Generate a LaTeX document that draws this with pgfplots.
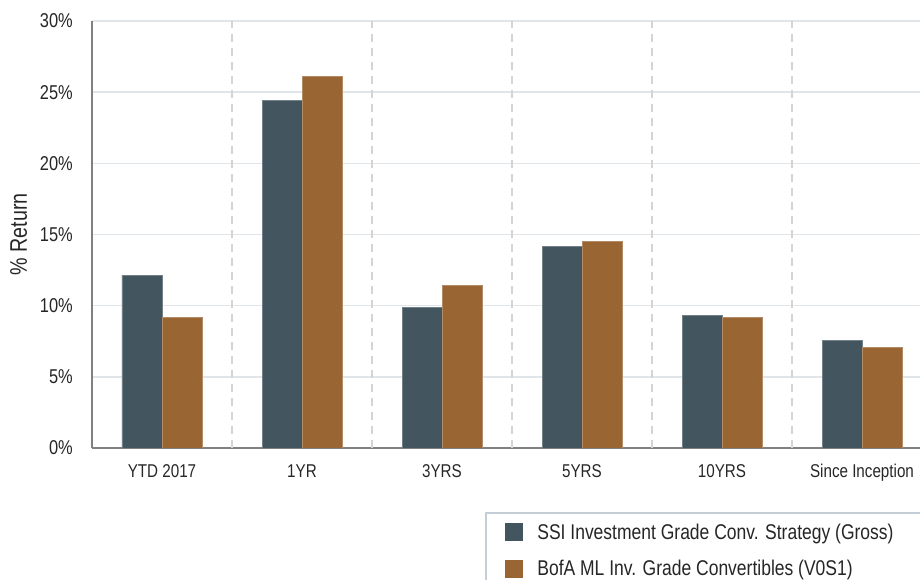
\documentclass[border=0pt]{standalone}
\usepackage{pgfplots}
\pgfplotsset{compat=1.18}
\usepackage{fontspec}
\setmainfont{Liberation Sans}[FakeStretch=0.82]
\definecolor{darkc}{HTML}{43555F}
\definecolor{orangec}{HTML}{996633}
\definecolor{gridc}{HTML}{E0E5EA}
\definecolor{dashc}{HTML}{D4D4D4}
\definecolor{axisc}{HTML}{808080}
\definecolor{legc}{HTML}{C5CED6}
\definecolor{textc}{HTML}{262626}
\begin{document}
\begin{tikzpicture}
\useasboundingbox (0,0) rectangle (690pt,435pt);
\clip (0,0) rectangle (690pt,435pt);
\begin{axis}[
  at={(69pt,99pt)}, anchor=south west,
  scale only axis, width=630pt, height=320.25pt,
  xmin=-0.5, xmax=5.5, ymin=0, ymax=30,
  ybar=0pt, bar width=30pt,
  axis x line*=bottom, axis y line*=left,
  axis line style={draw=axisc, line width=1.5pt, -},
  xtick={0,1,2,3,4,5},
  xticklabels={YTD 2017,1YR,3YRS,5YRS,10YRS,Since Inception},
  ytick={0,5,10,15,20,25,30},
  yticklabel={\pgfmathprintnumber{\tick}\%},
  /pgf/number format/assume math mode=true,
  major tick length=0pt,
  tick style={draw=none},
  xticklabel style={anchor=base, inner sep=0pt, yshift=-22.1pt, font=\fontsize{13.9}{16}\selectfont, text=textc},
  yticklabel style={anchor=east, inner sep=0pt, xshift=-14.25pt, font=\fontsize{15}{18}\selectfont, text=textc},
  ymajorgrids,
  major grid style={draw=gridc, line width=1.1pt},
  extra x ticks={0.5,1.5,2.5,3.5,4.5},
  extra x tick labels={},
  extra x tick style={xmajorgrids=true, ymajorgrids=false, major grid style={draw=dashc, line width=1.5pt, dash pattern=on 6pt off 4.5pt}},
  ylabel={\% Return},
  ylabel style={at={(axis description cs:0,0.5)}, anchor=center, yshift=55pt, font=\fontsize{18}{21}\selectfont, text=textc},
  legend image code/.code={\fill[#1, draw=none] (0pt,-6.75pt) rectangle (13.5pt,6.75pt);},
  legend cell align=left,
  legend style={at={(axis description cs:0.4679,-0.1499)}, anchor=north west,
    draw=legc, line width=1.5pt, fill=white, inner xsep=14pt, inner ysep=6pt,
    row sep=10.5pt, font=\fontsize{16}{19}\selectfont, text=textc,
    /tikz/every odd column/.append style={column sep=9pt}},
]
\addplot[fill=darkc, draw=darkc!75!white, line width=0.5pt]
  coordinates {(0,12.15) (1,24.4) (2,9.85) (3,14.15) (4,9.32) (5,7.55)};
\addlegendentry{\makebox[300pt][l]{SSI Investment Grade Conv. Strategy (Gross)}}
\addplot[fill=orangec, draw=orangec!75!white, line width=0.5pt]
  coordinates {(0,9.2) (1,26.1) (2,11.4) (3,14.5) (4,9.15) (5,7.05)};
\addlegendentry{\makebox[300pt][l]{BofA ML Inv. Grade Convertibles (V0S1)}}
\end{axis}
\end{tikzpicture}
\end{document}
